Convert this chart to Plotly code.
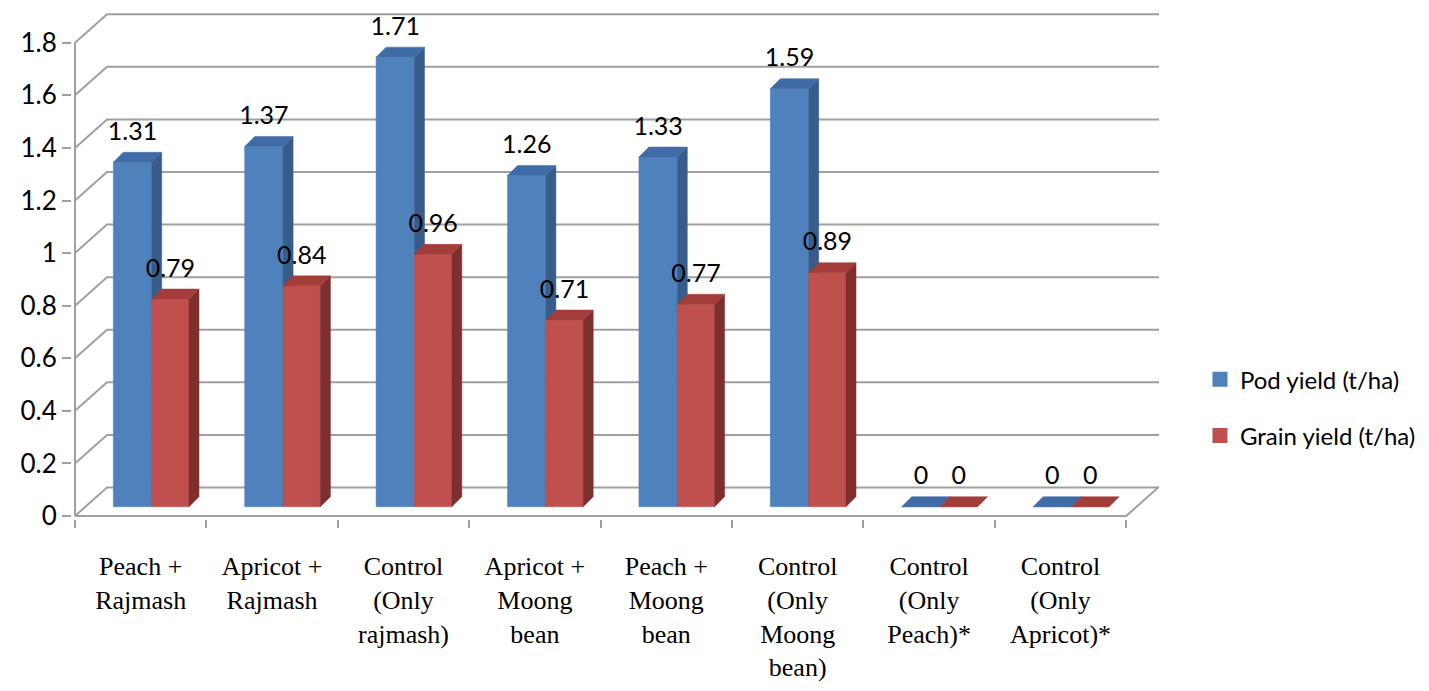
import plotly.graph_objects as go

# ---------------- data ----------------
categories = ["Peach +<br>Rajmash", "Apricot +<br>Rajmash", "Control<br>(Only<br>rajmash)",
              "Apricot +<br>Moong<br>bean", "Peach +<br>Moong<br>bean",
              "Control<br>(Only<br>Moong<br>bean)", "Control<br>(Only<br>Peach)*",
              "Control<br>(Only<br>Apricot)*"]
pod_yield = [1.31, 1.37, 1.71, 1.26, 1.33, 1.59, 0, 0]
grain_yield = [0.79, 0.84, 0.96, 0.71, 0.77, 0.89, 0, 0]
series_names = ["Pod yield (t/ha)", "Grain yield (t/ha)"]
y_ticks = [0, 0.2, 0.4, 0.6, 0.8, 1, 1.2, 1.4, 1.6, 1.8]
y_tick_text = ["0", "0.2", "0.4", "0.6", "0.8", "1", "1.2", "1.4", "1.6", "1.8"]

# ---------------- geometry (3D look, in data units) ----------------
PX_X = 131.4   # pixels per category
PX_Y = 262.9   # pixels per y unit
WALL_DX, WALL_DY = 32 / PX_X, 28.5 / PX_Y     # back wall offset
BAR_DX, BAR_DY = 10 / PX_X, 10 / PX_Y         # bar depth
BASE_Y = 9.3 / PX_Y                            # bar front base height
LABEL_GAP = 6 / PX_Y
X_LEFT = -0.5
X_RIGHT = len(categories) - 0.5
X_BACK_END = X_LEFT + (1159 - 75) / PX_X

BAR_SPAN = {0: (-0.2085, 0.0837), 1: (0.0837, 0.3676)}

GRID = "#a0a0a0"
COLORS = {
    0: dict(front="#4f81bd", side="#375c8a", top="#3f6ca6"),
    1: dict(front="#c0504d", side="#7e2e2c", top="#a33d3a"),
}

fig = go.Figure()

# gridlines on wall/floor
gx, gy = [], []
for v in y_ticks:
    gx += [X_LEFT, X_LEFT + WALL_DX, X_BACK_END, None]
    gy += [v, v + WALL_DY, v + WALL_DY, None]
fig.add_trace(go.Scatter(x=gx, y=gy, mode="lines", line=dict(color=GRID, width=2),
                         hoverinfo="skip", showlegend=False))
# floor front edge + right edge
fig.add_trace(go.Scatter(x=[X_LEFT, X_RIGHT, X_RIGHT + WALL_DX], y=[0, 0, WALL_DY],
                         mode="lines", line=dict(color=GRID, width=2),
                         hoverinfo="skip", showlegend=False))
# vertical axis line
fig.add_trace(go.Scatter(x=[X_LEFT, X_LEFT], y=[0, y_ticks[-1]], mode="lines",
                         line=dict(color=GRID, width=2), hoverinfo="skip", showlegend=False))


def faces(values, s):
    x0o, x1o = BAR_SPAN[s]
    fx, fy, sx, sy, tx, ty = [], [], [], [], [], []
    for i, v in enumerate(values):
        x0, x1 = i + x0o, i + x1o
        b, t = BASE_Y, BASE_Y + v
        fx += [x0, x1, x1, x0, x0, None]
        fy += [b, b, t, t, b, None]
        sx += [x1, x1 + BAR_DX, x1 + BAR_DX, x1, x1, None]
        sy += [b, b + BAR_DY, t + BAR_DY, t, b, None]
        tx += [x0, x1, x1 + BAR_DX, x0 + BAR_DX, x0, None]
        ty += [t, t, t + BAR_DY, t + BAR_DY, t, None]
    return (fx, fy), (sx, sy), (tx, ty)


for s, vals in enumerate([pod_yield, grain_yield]):
    f, sd, tp = faces(vals, s)
    for (xx, yy), key in [(f, "front"), (sd, "side"), (tp, "top")]:
        c = COLORS[s][key]
        fig.add_trace(go.Scatter(x=xx, y=yy, mode="lines", fill="toself", fillcolor=c,
                                 line=dict(color=c, width=0.5), hoverinfo="skip",
                                 showlegend=False))

# data labels
for s, vals in enumerate([pod_yield, grain_yield]):
    x0o, x1o = BAR_SPAN[s]
    fig.add_trace(go.Scatter(
        x=[i + (x0o + x1o) / 2 for i in range(len(vals))],
        y=[BASE_Y + v + BAR_DY + LABEL_GAP for v in vals],
        mode="text", text=[f"{v:g}" for v in vals], textposition="top center",
        textfont=dict(family="Lato", size=25, color="black"),
        hoverinfo="skip", showlegend=False, cliponaxis=False))

# legend entries
for s, name in enumerate(series_names):
    fig.add_trace(go.Scatter(x=[None], y=[None], mode="markers", name=name,
                             legendgroup=name,
                             marker=dict(symbol="square", size=15, color=COLORS[s]["front"])))

fig.update_layout(
    width=1429, height=691,
    margin=dict(l=72, r=264, t=10, b=172, autoexpand=False),
    paper_bgcolor="white", plot_bgcolor="white",
    xaxis=dict(range=[X_LEFT - 3 / PX_X, X_LEFT + (1165 - 75) / PX_X],
               tickmode="array", tickvals=list(range(len(categories))), ticktext=categories,
               ticks="", showgrid=False, zeroline=False, showline=False,
               ticklabelstandoff=29, automargin=False,
               tickfont=dict(family="Liberation Serif", size=26, color="black"),
               minor=dict(tickmode="array", tickvals=[i - 0.5 for i in range(len(categories) + 1)],
                          ticks="outside", ticklen=8, tickwidth=2, tickcolor=GRID, showgrid=False)),
    yaxis=dict(range=[-3 / PX_Y, (516 - 10) / PX_Y], tickmode="array", tickvals=y_ticks,
               ticktext=y_tick_text, ticks="outside", ticklen=9, tickwidth=2, tickcolor=GRID,
               showgrid=False, zeroline=False, showline=False, automargin=False,
               tickfont=dict(family="Lato", size=26, color="black")),
    legend=dict(x=1.032, xanchor="left", y=0.318, yanchor="top", tracegroupgap=22,
                font=dict(family="Lato", size=24, color="black"), bgcolor="rgba(0,0,0,0)"),
    showlegend=True,
)

fig.write_html("out.html")
